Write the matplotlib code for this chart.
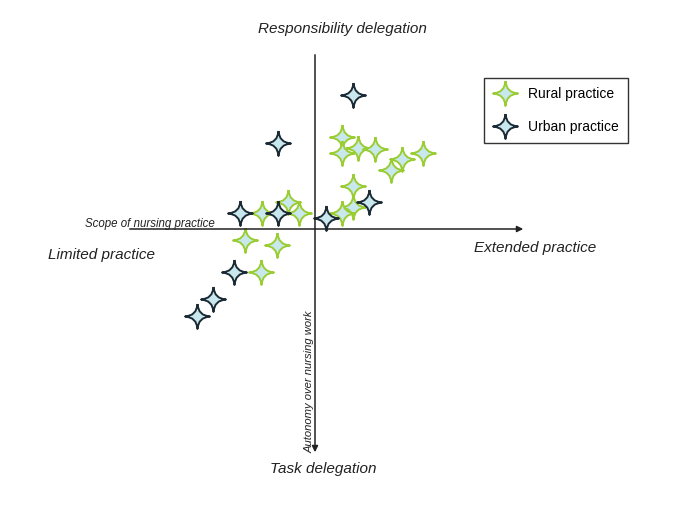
import matplotlib.pyplot as plt
from matplotlib.path import Path

plt.rcParams['font.family'] = ['Liberation Sans', 'DejaVu Sans']

# positions on the two axes (scope of practice, autonomy)
rural_x = [-5.3, -2.7, -1.6, 2.7, 2.7, 4.3, 6.0, 8.7, 7.6, 10.8, 3.8, 3.8, 2.7, -7.0, -3.8, -5.4]
rural_y = [1.6, 2.7, 1.6, 9.2, 7.6, 8.1, 8.0, 7.0, 5.9, 7.6, 4.3, 2.2, 1.6, -1.1, -1.6, -4.3]
urban_x = [3.8, -3.7, -7.5, -3.7, 1.1, 5.4, -8.1, -10.2, -11.8]
urban_y = [13.4, 8.6, 1.6, 1.6, 1.1, 2.7, -4.3, -7.0, -8.7]

# 4 pointed sparkle marker
c = 0.06
verts = [(0, 1), (c, c), (1, 0), (c, -c), (0, -1), (-c, -c), (-1, 0), (-c, c), (0, 1)]
codes = [Path.MOVETO] + [Path.CURVE3, Path.CURVE3] * 4
star = Path(verts, codes)

fill = '#c8e8ee'
green = '#9acd32'
dark = '#1c2a35'

fig = plt.figure(figsize=(6.85, 5.13), dpi=100)
ax = fig.add_axes([0, 0, 1, 1])
ax.set_xlim(-31.5, 37.0)
ax.set_ylim(-28.4, 22.9)
ax.axis('off')

# axes arrows
ax.annotate('', xy=(21.1, 0), xytext=(-18.8, 0),
            arrowprops=dict(arrowstyle='-|>', color='#222222', lw=1.1, mutation_scale=9))
ax.annotate('', xy=(0, -22.6), xytext=(0, 17.7),
            arrowprops=dict(arrowstyle='-|>', color='#222222', lw=1.1, mutation_scale=9))

ax.plot(rural_x, rural_y, linestyle='none', marker=star, markersize=18,
        markerfacecolor=fill, markeredgecolor=green, markeredgewidth=1.4, label='Rural practice')
ax.plot(urban_x, urban_y, linestyle='none', marker=star, markersize=18,
        markerfacecolor=fill, markeredgecolor=dark, markeredgewidth=1.4, label='Urban practice')

ax.text(2.7, 19.95, 'Responsibility delegation', fontsize=11, style='italic',
        ha='center', va='center', color='#222222')
ax.text(0.8, -24.0, 'Task delegation', fontsize=11, style='italic',
        ha='center', va='center', color='#222222')
ax.text(-26.7, -2.6, 'Limited practice', fontsize=11, style='italic',
        ha='left', va='center', color='#222222')
ax.text(15.9, -1.9, 'Extended practice', fontsize=11, style='italic',
        ha='left', va='center', color='#222222')
ax.text(-23.0, 0.2, 'Scope of nursing practice', fontsize=8.3, style='italic',
        ha='left', va='baseline', color='#222222')
ax.text(-0.2, -22.4, 'Autonomy over nursing work', fontsize=8.1, style='italic',
        rotation=90, rotation_mode='anchor', ha='left', va='baseline', color='#222222')

leg = ax.legend(loc='upper right', bbox_to_anchor=(628 / 685, 1 - 78 / 513),
                borderaxespad=0, fontsize=10, frameon=True, fancybox=False,
                borderpad=0.65, labelspacing=1.35, handlelength=1.6, handletextpad=0.9)
leg.get_frame().set_edgecolor('black')
leg.get_frame().set_linewidth(1.0)

fig.savefig('out.png', dpi=100)
